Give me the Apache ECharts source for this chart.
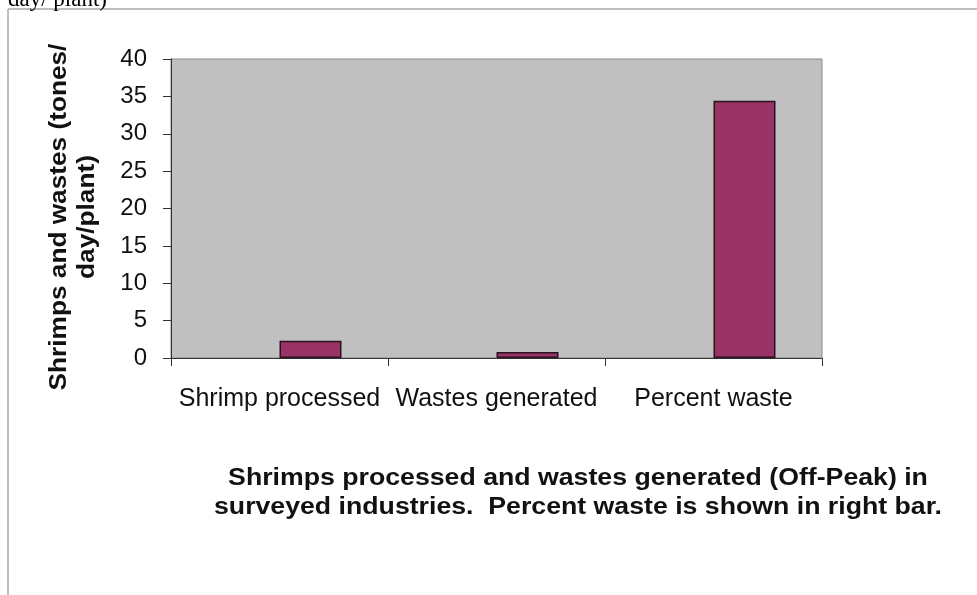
<!DOCTYPE html>
<html>
<head>
<meta charset="utf-8">
<script src="https://cdn.jsdelivr.net/npm/echarts@6/dist/echarts.min.js"></script>
<style>
  html, body { margin: 0; padding: 0; background: #fff; }
  #chart { width: 977px; height: 595px; }
</style>
</head>
<body>
<div id="chart"></div>
<script>
// categories and values
var categories = ["Shrimp processed", "Wastes generated", "Percent waste"];
var emptySeries = [null, null, null];
var offPeak = [2.3, 0.8, 34.4];
var yTicks = { min: 0, max: 40, step: 5 };

var chart = echarts.init(document.getElementById("chart"));

var option = {
  backgroundColor: "#ffffff",
  animation: false,
  grid: {
    left: 171,
    right: 155,
    top: 59,
    bottom: 237,
    show: true,
    backgroundColor: "#c0c0c0",
    borderColor: "#8a8a8a",
    borderWidth: 1
  },
  xAxis: {
    type: "category",
    data: categories,
    axisLine: { lineStyle: { color: "#333", width: 1 } },
    axisTick: { show: true, length: 8, lineStyle: { color: "#333" } },
    axisLabel: {
      color: "#111",
      fontFamily: "Liberation Sans",
      fontSize: 25,
      margin: 29,
      interval: 0
    }
  },
  yAxis: {
    type: "value",
    min: yTicks.min,
    max: yTicks.max,
    interval: yTicks.step,
    splitLine: { show: false },
    axisLine: { show: true, lineStyle: { color: "#333", width: 1 } },
    axisTick: { show: true, length: 8, lineStyle: { color: "#333" } },
    axisLabel: {
      color: "#111",
      fontFamily: "Liberation Sans",
      fontSize: 24,
      margin: 24
    }
  },
  series: [
    {
      type: "bar",
      data: emptySeries,
      barWidth: 62,
      barGap: "0%"
    },
    {
      type: "bar",
      data: offPeak,
      barWidth: 62,
      barGap: "0%",
      itemStyle: {
        color: "#993366",
        borderColor: "#2b1220",
        borderWidth: 1.5
      }
    }
  ],
  graphic: [
    {
      type: "line",
      shape: { x1: 8, y1: 9, x2: 977, y2: 9 },
      style: { stroke: "#a8a8a8", lineWidth: 1.5 }
    },
    {
      type: "line",
      shape: { x1: 8, y1: 9, x2: 8, y2: 595 },
      style: { stroke: "#a8a8a8", lineWidth: 1.5 }
    },
    {
      type: "text",
      left: 8,
      top: -12,
      style: {
        text: "day/ plant)",
        fill: "#000",
        font: "23px 'Liberation Serif'"
      }
    },
    {
      type: "text",
      x: 74,
      y: 217,
      rotation: Math.PI / 2,
      scaleX: 1.14,
      style: {
        text: "Shrimps and wastes (tones/\nday/plant)",
        fill: "#111",
        font: "bold 23px 'Liberation Sans'",
        align: "center",
        verticalAlign: "middle",
        lineHeight: 28
      }
    },
    {
      type: "text",
      x: 578,
      y: 493,
      scaleX: 1.16,
      style: {
        text: "Shrimps processed and wastes generated (Off-Peak) in\nsurveyed industries.  Percent waste is shown in right bar.",
        fill: "#111",
        font: "bold 23px 'Liberation Sans'",
        align: "center",
        verticalAlign: "middle",
        lineHeight: 29
      }
    }
  ]
};

chart.setOption(option);
</script>
</body>
</html>
